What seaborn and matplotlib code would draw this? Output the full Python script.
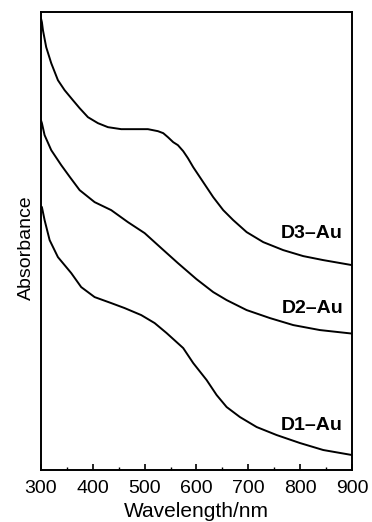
import pandas as pd
import seaborn as sns
import matplotlib.pyplot as plt

# wavelength (nm) and absorbance (a.u., offset traces)
wl_d3 = [300, 301.9, 303.9, 310.2, 319.9, 332.8, 345.7, 361.7, 374.7, 390.7, 410.0, 429.3, 454.9,
         480.8, 506.4, 525.7, 536.0, 545.0, 555.2, 564.3, 574.5, 583.6, 593.8, 613.1, 632.4, 651.7,
         671.0, 696.9, 728.9, 767.5, 806.1, 844.7, 900]
ab_d3 = [4.52, 4.48, 4.40, 4.23, 4.07, 3.90, 3.80, 3.70, 3.62, 3.53, 3.47, 3.43, 3.41,
         3.41, 3.41, 3.39, 3.37, 3.33, 3.28, 3.25, 3.19, 3.12, 3.03, 2.88, 2.73, 2.60,
         2.50, 2.38, 2.28, 2.20, 2.14, 2.10, 2.05]

wl_d2 = [300, 301.9, 307.1, 319.9, 339.2, 356.0, 374.7, 403.6, 435.6, 467.8, 500.1, 532.1,
         564.3, 600.0, 632.4, 658.3, 696.9, 741.8, 786.8, 838.3, 900]
ab_d2 = [3.50, 3.47, 3.35, 3.20, 3.05, 2.93, 2.80, 2.68, 2.60, 2.48, 2.37, 2.22,
         2.07, 1.91, 1.78, 1.70, 1.60, 1.52, 1.45, 1.40, 1.365]

wl_d1 = [300, 301.9, 307.1, 316.8, 332.8, 358.5, 377.7, 403.6, 435.6, 461.5, 493.5, 519.4,
         542.5, 574.5, 593.8, 619.7, 639.0, 658.3, 683.9, 716.2, 754.7, 799.7, 844.7, 900]
ab_d1 = [2.64, 2.63, 2.50, 2.30, 2.13, 1.97, 1.83, 1.73, 1.67, 1.62, 1.55, 1.47,
         1.37, 1.22, 1.07, 0.90, 0.75, 0.63, 0.53, 0.43, 0.35, 0.27, 0.20, 0.15]

labels = ['D3\u2013Au', 'D2\u2013Au', 'D1\u2013Au']
label_y = [2.37, 1.62, 0.45]

df = pd.concat([
    pd.DataFrame({'wl': wl_d3, 'A': ab_d3, 'sample': labels[0]}),
    pd.DataFrame({'wl': wl_d2, 'A': ab_d2, 'sample': labels[1]}),
    pd.DataFrame({'wl': wl_d1, 'A': ab_d1, 'sample': labels[2]}),
])

sns.set_theme(style='ticks', rc={'text.color': 'black', 'axes.labelcolor': 'black',
                                 'xtick.color': 'black', 'axes.edgecolor': 'black'})
plt.rcParams['font.family'] = ['Liberation Sans', 'DejaVu Sans']

fig = plt.figure(figsize=(3.72, 5.22), dpi=100)
ax = fig.add_axes([0.110, 0.0996, 0.836, 0.877])
sns.lineplot(data=df, x='wl', y='A', units='sample', estimator=None, color='black',
             linewidth=1.4, legend=False, ax=ax, sort=False)

for lab, y in zip(labels, label_y):
    ax.text(883, y, lab, ha='right', va='center', fontsize=14, fontweight='bold')

ax.set_xlim(300, 900)
ax.set_ylim(0, 4.58)
ax.set_xticks([300, 400, 500, 600, 700, 800, 900])
ax.set_xticks([350, 450, 550, 650, 750, 850], minor=True)
ax.set_yticks([])
ax.tick_params(axis='x', direction='in', length=4, width=1.2, labelsize=14, pad=7.5)
ax.tick_params(axis='x', which='minor', direction='in', length=2.5, width=1.0)
for s in ax.spines.values():
    s.set_linewidth(1.4)
ax.set_xlabel('Wavelength/nm', fontsize=15, labelpad=3)
ax.set_ylabel('Absorbance', fontsize=14)
ax.yaxis.set_label_coords(-0.02, 0.485)

fig.savefig('out.png', dpi=100)
